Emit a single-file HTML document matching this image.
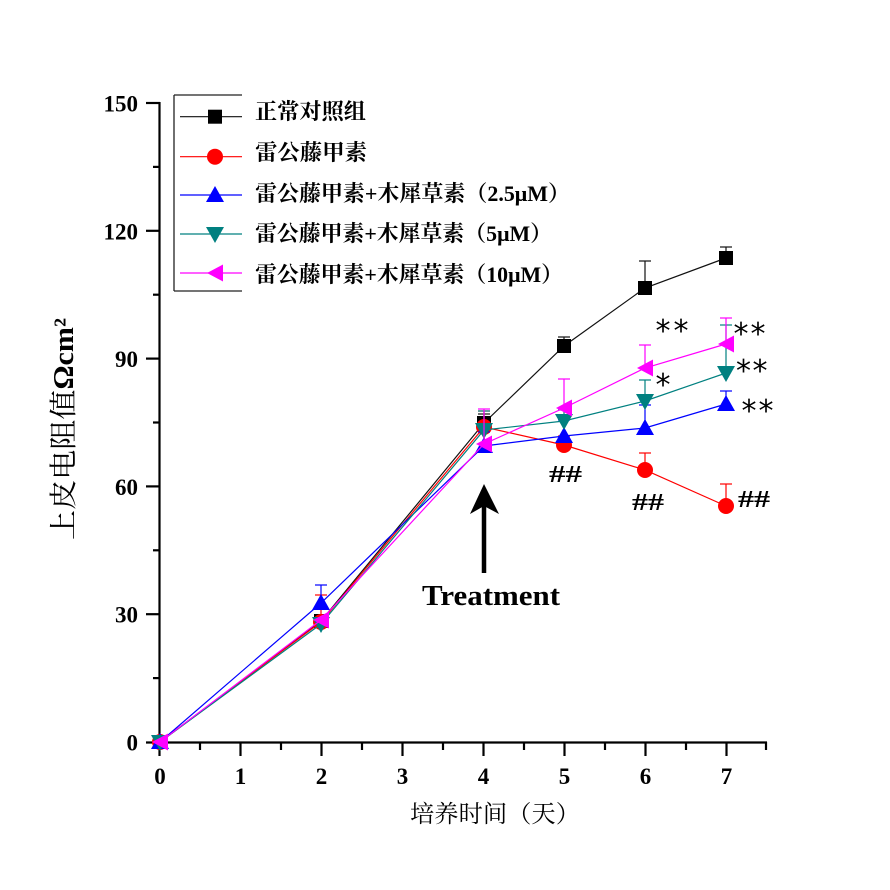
<!DOCTYPE html>
<html>
<head>
<meta charset="utf-8">
<style>
html,body{margin:0;padding:0;background:#fff;}
svg{display:block;}
</style>
</head>
<body>
<svg width="890" height="890" viewBox="0 0 890 890" xmlns="http://www.w3.org/2000/svg">
<rect x="0" y="0" width="890" height="890" fill="#ffffff"/>

<!-- Axes -->
<g stroke="#000" stroke-width="2.2" fill="none">
  <line x1="159.5" y1="102" x2="159.5" y2="756"/>
  <line x1="146" y1="742.5" x2="767" y2="742.5"/>
  <line x1="146" y1="103" x2="160" y2="103"/>
  <line x1="146" y1="230.8" x2="160" y2="230.8"/>
  <line x1="146" y1="358.6" x2="160" y2="358.6"/>
  <line x1="146" y1="486.4" x2="160" y2="486.4"/>
  <line x1="146" y1="614.2" x2="160" y2="614.2"/>
  <line x1="153" y1="166.9" x2="160" y2="166.9"/>
  <line x1="153" y1="294.7" x2="160" y2="294.7"/>
  <line x1="153" y1="422.5" x2="160" y2="422.5"/>
  <line x1="153" y1="550.3" x2="160" y2="550.3"/>
  <line x1="153" y1="678.1" x2="160" y2="678.1"/>
  <line x1="240.5" y1="742" x2="240.5" y2="756"/>
  <line x1="321.5" y1="742" x2="321.5" y2="756"/>
  <line x1="402.5" y1="742" x2="402.5" y2="756"/>
  <line x1="483.5" y1="742" x2="483.5" y2="756"/>
  <line x1="564.5" y1="742" x2="564.5" y2="756"/>
  <line x1="645.5" y1="742" x2="645.5" y2="756"/>
  <line x1="726.5" y1="742" x2="726.5" y2="756"/>
  <line x1="200" y1="742" x2="200" y2="750"/>
  <line x1="281" y1="742" x2="281" y2="750"/>
  <line x1="362" y1="742" x2="362" y2="750"/>
  <line x1="443" y1="742" x2="443" y2="750"/>
  <line x1="524" y1="742" x2="524" y2="750"/>
  <line x1="605" y1="742" x2="605" y2="750"/>
  <line x1="686" y1="742" x2="686" y2="750"/>
  <line x1="766" y1="742" x2="766" y2="750"/>
</g>

<g font-family="'Liberation Serif', serif" font-weight="bold" font-size="23" fill="#000" text-anchor="end">
  <text x="138" y="111.5">150</text>
  <text x="138" y="239.3">120</text>
  <text x="138" y="367.1">90</text>
  <text x="138" y="494.9">60</text>
  <text x="138" y="622.7">30</text>
  <text x="138" y="750.5">0</text>
</g>
<g font-family="'Liberation Serif', serif" font-weight="bold" font-size="23" fill="#000" text-anchor="middle">
  <text x="160" y="784">0</text>
  <text x="240.5" y="784">1</text>
  <text x="321.5" y="784">2</text>
  <text x="402.5" y="784">3</text>
  <text x="483.5" y="784">4</text>
  <text x="564.5" y="784">5</text>
  <text x="645.5" y="784">6</text>
  <text x="726.5" y="784">7</text>
</g>

<text x="410" y="822" font-family="'Liberation Serif','Noto Serif CJK SC',serif" font-size="24" fill="#000" textLength="170" lengthAdjust="spacingAndGlyphs">培养时间（天）</text>
<text transform="translate(73,429) rotate(-90)" text-anchor="middle" font-family="'Liberation Serif','Noto Serif CJK SC',serif" font-size="28" fill="#000" textLength="222" lengthAdjust="spacingAndGlyphs">上皮电阻值<tspan font-weight="bold">Ωcm²</tspan></text>

<!-- black -->
<g stroke="#111" stroke-width="1.2" fill="none">
  <polyline points="160,742 321,621 484,423 564,346 645,288 726,258"/>
  <line x1="321" y1="621" x2="321" y2="616"/><line x1="315" y1="616" x2="327" y2="616"/>
  <line x1="484" y1="423" x2="484" y2="414"/><line x1="478" y1="414" x2="490" y2="414"/>
  <line x1="564" y1="346" x2="564" y2="337"/><line x1="558" y1="337" x2="570" y2="337"/>
  <line x1="645" y1="288" x2="645" y2="261"/><line x1="639" y1="261" x2="651" y2="261"/>
  <line x1="726" y1="258" x2="726" y2="247"/><line x1="720" y1="247" x2="732" y2="247"/>
</g>
<g fill="#000">
  <rect x="153" y="735" width="14" height="14"/>
  <rect x="314" y="614" width="14" height="14"/>
  <rect x="477" y="416" width="14" height="14"/>
  <rect x="557" y="339" width="14" height="14"/>
  <rect x="638" y="281" width="14" height="14"/>
  <rect x="719" y="251" width="14" height="14"/>
</g>

<!-- red -->
<g stroke="#ff0000" stroke-width="1.2" fill="none">
  <polyline points="160,742 321,622 484,427 564,445 645,470 726,506"/>
  <line x1="321" y1="622" x2="321" y2="595"/><line x1="315" y1="595" x2="327" y2="595"/>
  <line x1="484" y1="427" x2="484" y2="411"/><line x1="478" y1="411" x2="490" y2="411"/>
  <line x1="564" y1="445" x2="564" y2="436"/><line x1="558" y1="436" x2="570" y2="436"/>
  <line x1="645" y1="470" x2="645" y2="453"/><line x1="639" y1="453" x2="651" y2="453"/>
  <line x1="726" y1="506" x2="726" y2="484"/><line x1="720" y1="484" x2="732" y2="484"/>
</g>
<g fill="#ff0000">
  <circle cx="160" cy="742" r="8"/>
  <circle cx="321" cy="622" r="8"/>
  <circle cx="484" cy="427" r="8"/>
  <circle cx="564" cy="445" r="8"/>
  <circle cx="645" cy="470" r="8"/>
  <circle cx="726" cy="506" r="8"/>
</g>

<!-- blue -->
<g stroke="#0000ff" stroke-width="1.2" fill="none">
  <polyline points="160,742 321,603 484,446 564,436 645,428 726,404"/>
  <line x1="321" y1="603" x2="321" y2="585"/><line x1="315" y1="585" x2="327" y2="585"/>
  <line x1="484" y1="446" x2="484" y2="432"/><line x1="478" y1="432" x2="490" y2="432"/>
  <line x1="564" y1="436" x2="564" y2="420"/><line x1="558" y1="420" x2="570" y2="420"/>
  <line x1="645" y1="428" x2="645" y2="405"/><line x1="639" y1="405" x2="651" y2="405"/>
  <line x1="726" y1="404" x2="726" y2="391"/><line x1="720" y1="391" x2="732" y2="391"/>
</g>
<g fill="#0000ff">
  <polygon points="160,733 151,749 169,749"/>
  <polygon points="321,594 312,610 330,610"/>
  <polygon points="484,437 475,453 493,453"/>
  <polygon points="564,427 555,443 573,443"/>
  <polygon points="645,419 636,435 654,435"/>
  <polygon points="726,395 717,411 735,411"/>
</g>

<!-- teal -->
<g stroke="#008080" stroke-width="1.2" fill="none">
  <polyline points="160,742 321,624 484,430 564,421 645,401 726,373"/>
  <line x1="484" y1="430" x2="484" y2="411"/><line x1="478" y1="411" x2="490" y2="411"/>
  <line x1="564" y1="421" x2="564" y2="410"/><line x1="558" y1="410" x2="570" y2="410"/>
  <line x1="645" y1="401" x2="645" y2="380"/><line x1="639" y1="380" x2="651" y2="380"/>
  <line x1="726" y1="373" x2="726" y2="325"/><line x1="720" y1="325" x2="732" y2="325"/>
</g>
<g fill="#008080">
  <polygon points="160,751 151,735 169,735"/>
  <polygon points="321,633 312,617 330,617"/>
  <polygon points="484,439 475,423 493,423"/>
  <polygon points="564,430 555,414 573,414"/>
  <polygon points="645,410 636,394 654,394"/>
  <polygon points="726,382 717,366 735,366"/>
</g>

<!-- magenta -->
<g stroke="#ff00ff" stroke-width="1.2" fill="none">
  <polyline points="160,742 321,620 484,444 564,408 645,368 726,344"/>
  <line x1="484" y1="444" x2="484" y2="409"/><line x1="478" y1="409" x2="490" y2="409"/>
  <line x1="564" y1="408" x2="564" y2="379"/><line x1="558" y1="379" x2="570" y2="379"/>
  <line x1="645" y1="368" x2="645" y2="345"/><line x1="639" y1="345" x2="651" y2="345"/>
  <line x1="726" y1="344" x2="726" y2="318"/><line x1="720" y1="318" x2="732" y2="318"/>
</g>
<g fill="#ff00ff">
  <polygon points="152,742 168,733.5 168,750.5"/>
  <polygon points="313,620 329,611.5 329,628.5"/>
  <polygon points="476,444 492,435.5 492,452.5"/>
  <polygon points="556,408 572,399.5 572,416.5"/>
  <polygon points="637,368 653,359.5 653,376.5"/>
  <polygon points="718,344 734,335.5 734,352.5"/>
</g>

<!-- Legend -->
<g stroke="#222" stroke-width="1.3" fill="none">
  <line x1="174" y1="95" x2="174" y2="291"/>
  <line x1="174" y1="95" x2="242" y2="95"/>
  <line x1="174" y1="291" x2="242" y2="291"/>
</g>
<line x1="180" y1="116.7" x2="242" y2="116.7" stroke="#111" stroke-width="1.2"/>
<rect x="208" y="109.7" width="14" height="14" fill="#000"/>
<line x1="180" y1="156.7" x2="242" y2="156.7" stroke="#ff0000" stroke-width="1.2"/>
<circle cx="215" cy="156.7" r="8" fill="#ff0000"/>
<line x1="180" y1="195" x2="242" y2="195" stroke="#0000ff" stroke-width="1.2"/>
<polygon points="215,186 206,202 224,202" fill="#0000ff"/>
<line x1="180" y1="234" x2="242" y2="234" stroke="#008080" stroke-width="1.2"/>
<polygon points="215,243 206,227 224,227" fill="#008080"/>
<line x1="180" y1="273" x2="242" y2="273" stroke="#ff00ff" stroke-width="1.2"/>
<polygon points="207,273 223,264.5 223,281.5" fill="#ff00ff"/>

<g font-family="'Liberation Serif','Noto Serif CJK SC',serif" font-weight="bold" font-size="22" fill="#000">
  <text x="255" y="119" textLength="111" lengthAdjust="spacingAndGlyphs">正常对照组</text>
  <text x="255" y="160" textLength="112" lengthAdjust="spacingAndGlyphs">雷公藤甲素</text>
  <text x="255" y="201" textLength="315" lengthAdjust="spacingAndGlyphs">雷公藤甲素+木犀草素（2.5μM）</text>
  <text x="255" y="241" textLength="297" lengthAdjust="spacingAndGlyphs">雷公藤甲素+木犀草素（5μM）</text>
  <text x="255" y="282" textLength="308" lengthAdjust="spacingAndGlyphs">雷公藤甲素+木犀草素（10μM）</text>
</g>

<!-- Treatment arrow -->
<line x1="484" y1="500" x2="484" y2="573" stroke="#000" stroke-width="4.5"/>
<polygon points="484,484 470,514 484,506 499,514" fill="#000"/>
<text x="422" y="605" font-family="'Liberation Serif', serif" font-weight="bold" font-size="28" fill="#000" textLength="138" lengthAdjust="spacingAndGlyphs">Treatment</text>

<!-- Significance marks -->
<g font-family="'DejaVu Sans', sans-serif" font-size="30" fill="#000" text-anchor="middle">
  <text x="663" y="341">*</text><text x="681" y="341">*</text>
  <text x="741" y="344">*</text><text x="758" y="344">*</text>
  <text x="663" y="395">*</text>
  <text x="743.5" y="381">*</text><text x="760" y="381">*</text>
  <text x="749" y="421">*</text><text x="766" y="421">*</text>
</g>
<g font-family="'Liberation Serif', serif" font-weight="bold" font-size="24" fill="#000">
  <text x="549" y="482" textLength="33" lengthAdjust="spacingAndGlyphs">##</text>
  <text x="632" y="510" textLength="32" lengthAdjust="spacingAndGlyphs">##</text>
  <text x="738" y="507" textLength="32" lengthAdjust="spacingAndGlyphs">##</text>
</g>
</svg>
</body>
</html>
